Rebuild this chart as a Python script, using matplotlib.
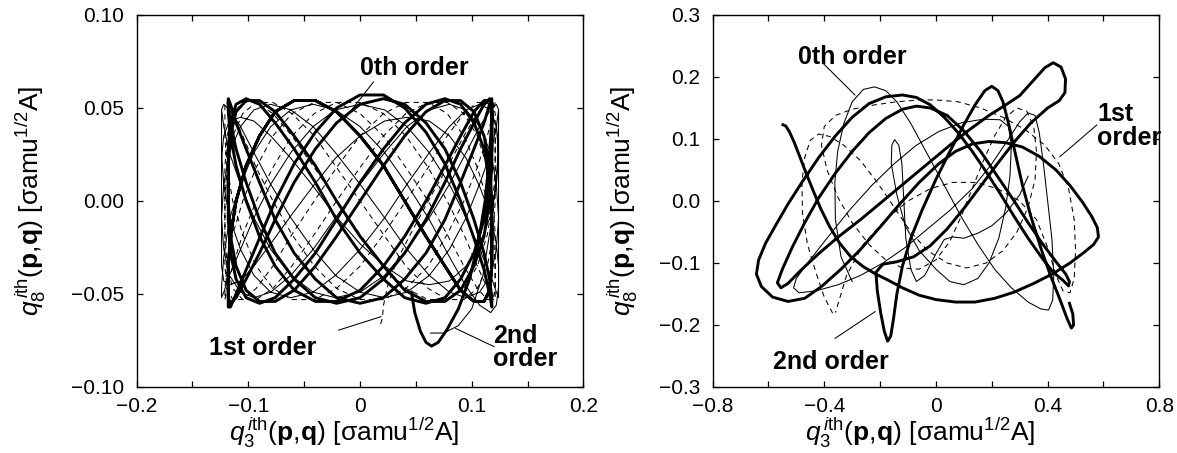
import numpy as np
import matplotlib.pyplot as plt
from matplotlib.ticker import FixedLocator

plt.rcParams['font.family'] = ['Liberation Sans', 'DejaVu Sans']
plt.rcParams['mathtext.fontset'] = 'custom'
plt.rcParams['mathtext.rm'] = 'Liberation Sans'
plt.rcParams['mathtext.it'] = 'Liberation Sans:italic'
plt.rcParams['mathtext.bf'] = 'Liberation Sans:bold'

# ---------------- left panel: q3 vs q8 ----------------
# x positions of one left->right sweep of the trajectory (each curve)
thick_grid = [-0.118, -0.116, -0.111, -0.102, -0.090, -0.076, -0.059, -0.040, -0.021, 0.0,
              0.021, 0.040, 0.059, 0.076, 0.090, 0.102, 0.111, 0.116, 0.118]
thin_grid = [-0.124, -0.122, -0.117, -0.107, -0.095, -0.080, -0.062, -0.042, -0.022, 0.0,
             0.022, 0.042, 0.062, 0.080, 0.095, 0.107, 0.117, 0.122, 0.124]
dash_grid = [-0.121, -0.119, -0.114, -0.105, -0.093, -0.078, -0.061, -0.041, -0.021, 0.0,
             0.021, 0.041, 0.061, 0.078, 0.093, 0.105, 0.114, 0.119, 0.121]

# 2nd order (thick): start hook, then sweeps (first one right->left)
thick_start_x = [0.046, 0.049, 0.054, 0.059, 0.064, 0.070, 0.078, 0.088, 0.098, 0.106, 0.112, 0.116, 0.118]
thick_start_y = [-0.049, -0.060, -0.070, -0.076, -0.078, -0.076, -0.069, -0.058, -0.042, -0.022, 0.0, 0.025, 0.045]
thick_sweeps = [
    [.055, .052, .042, .028, .010, -.010, -.028, -.042, -.052, -.055, -.052, -.042, -.028, -.010, .010, .028, .042, .052, .055],
    [.048, .035, .019, 0, -.019, -.035, -.048, -.054, -.054, -.048, -.035, -.019, 0, .019, .035, .048, .054, .054, .048],
    [.019, 0, -.019, -.035, -.048, -.054, -.054, -.048, -.035, -.019, 0, .019, .035, .048, .054, .054, .048, .035, .019],
    [-.010, -.028, -.042, -.052, -.055, -.052, -.042, -.028, -.010, .010, .028, .042, .052, .055, .052, .042, .028, .010, -.010],
    [-.035, -.048, -.054, -.054, -.048, -.035, -.019, 0, .019, .035, .048, .054, .054, .048, .035, .019, 0, -.019, -.035],
    [-.057, -.057, -.050, -.037, -.020, 0, .020, .037, .050, .057, .057, .050, .037, .020, 0, -.020, -.037, -.050, -.057],
    [-.052, -.042, -.028, -.010, .010, .028, .042, .052, .055, .052, .042, .028, .010, -.010, -.028, -.042, -.052, -.055, -.052],
    [-.035, -.019, 0, .019, .035, .048, .054, .054, .048, .035, .019, 0, -.019, -.035, -.048, -.054, -.054, -.048, -.035],
    [0, .019, .035, .048, .054, .054, .048, .035, .019, 0, -.019, -.035, -.048, -.054, -.054, -.048, -.035, -.019, 0],
    [.028, .042, .052, .055, .052, .042, .028, .010, -.010, -.028, -.042, -.052, -.055, -.052, -.042, -.028, -.010, .010, .028],
    [.052, .055, .052, .042, .028, .010, -.010, -.028, -.042, -.052, -.055, -.052, -.042, -.028, -.010, .010, .028, .042, .052],
]

# 0th order (thin)
thin_start_x = [0.063, 0.075, 0.088, 0.100, 0.110, 0.118, 0.123, 0.124]
thin_start_y = [-0.071, -0.071, -0.067, -0.058, -0.040, -0.010, 0.020, 0.045]
thin_sweeps = [
    [.049, .040, .026, .009, -.009, -.026, -.040, -.049, -.052, -.049, -.040, -.026, -.009, .009, .026, .040, .049, .052, .049],
    [.026, .009, -.009, -.026, -.040, -.049, -.052, -.049, -.040, -.026, -.009, .009, .026, .040, .049, .052, .049, .040, .026],
    [-.009, -.026, -.040, -.049, -.052, -.049, -.040, -.026, -.009, .009, .026, .040, .049, .052, .049, .040, .026, .009, -.009],
    [-.035, -.043, -.045, -.043, -.035, -.023, -.008, .008, .023, .035, .043, .045, .043, .035, .023, .008, -.008, -.023, -.035],
    [-.052, -.049, -.040, -.026, -.009, .009, .026, .040, .049, .052, .049, .040, .026, .009, -.009, -.026, -.040, -.049, -.052],
    [-.046, -.030, -.010, .009, .026, .040, .049, .052, .049, .040, .026, .009, -.010, -.030, -.046, -.056, -.060, -.056, -.046],
    [-.009, .009, .026, .040, .049, .052, .049, .040, .026, .009, -.009, -.026, -.040, -.049, -.052, -.049, -.040, -.026, -.009],
    [.023, .035, .043, .045, .043, .035, .023, .008, -.008, -.023, -.035, -.043, -.045, -.043, -.035, -.023, -.008, .008, .023],
    [.049, .052, .049, .040, .026, .009, -.009, -.026, -.040, -.049, -.052, -.049, -.040, -.026, -.009, .009, .026, .040, .049],
]

# 1st order (dashed): sweeps, then the last part ending in the small hook
dash_sweeps = [
    [.053, .047, .035, .018, 0, -.018, -.035, -.047, -.053, -.053, -.047, -.035, -.018, 0, .018, .035, .047, .053, .053],
    [.035, .018, 0, -.018, -.035, -.047, -.053, -.053, -.047, -.035, -.018, 0, .018, .035, .047, .053, .053, .047, .035],
    [0, -.018, -.035, -.047, -.053, -.053, -.047, -.035, -.018, 0, .018, .035, .047, .053, .053, .047, .035, .018, 0],
    [-.035, -.047, -.053, -.053, -.047, -.035, -.018, 0, .018, .035, .047, .053, .053, .047, .035, .018, 0, -.018, -.035],
    [-.053, -.053, -.047, -.035, -.018, 0, .018, .035, .047, .053, .053, .047, .035, .018, 0, -.018, -.035, -.047, -.053],
    [-.047, -.035, -.018, 0, .018, .035, .047, .053, .053, .047, .035, .018, 0, -.018, -.035, -.047, -.053, -.053, -.047],
    [-.018, 0, .018, .035, .047, .053, .053, .047, .035, .018, 0, -.018, -.035, -.047, -.053, -.053, -.047, -.035, -.018],
    [.018, .035, .047, .053, .053, .047, .035, .018, 0, -.018, -.035, -.047, -.053, -.053, -.047, -.035, -.018, 0, .018],
]
dash_end_x = [0.121, 0.119, 0.114, 0.105, 0.093, 0.078, 0.061, 0.045, 0.033, 0.025, 0.021, 0.020, 0.018]
dash_end_y = [.047, .053, .053, .047, .035, .018, 0.0, -.018, -.032, -.045, -.056, -.063, -.067]

left_xticks = [-0.2, -0.1, 0.0, 0.1, 0.2]
left_xlabels = ['\u22120.2', '\u22120.1', '0', '0.1', '0.2']
left_yticks = [-0.10, -0.05, 0.0, 0.05, 0.10]
left_ylabels = ['\u22120.10', '\u22120.05', '0.00', '0.05', '0.10']

# ---------------- right panel, traced by eye ----------------
thick_r = [(-0.548, 0.123), (-0.538, 0.121), (-0.525, 0.112), (-0.508, 0.095), (-0.488, 0.072), (-0.465, 0.045),
           (-0.44, 0.017), (-0.412, -0.013), (-0.38, -0.042), (-0.345, -0.068), (-0.305, -0.09), (-0.26, -0.106),
           (-0.215, -0.118), (-0.17, -0.128), (-0.12, -0.14), (-0.06, -0.152), (0.0, -0.159), (0.07, -0.163),
           (0.14, -0.163), (0.21, -0.157), (0.28, -0.147), (0.35, -0.133), (0.42, -0.117), (0.48, -0.1),
           (0.53, -0.083), (0.565, -0.07), (0.582, -0.058), (0.578, -0.043), (0.558, -0.025), (0.525, -0.002),
           (0.48, 0.025), (0.43, 0.05), (0.37, 0.072), (0.31, 0.087), (0.25, 0.094), (0.19, 0.096), (0.13, 0.092),
           (0.07, 0.08), (0.01, 0.06), (-0.06, 0.03), (-0.13, -0.005), (-0.2, -0.042), (-0.27, -0.078),
           (-0.34, -0.11), (-0.41, -0.138), (-0.47, -0.157), (-0.53, -0.162), (-0.585, -0.155), (-0.625, -0.138),
           (-0.643, -0.118), (-0.635, -0.095), (-0.61, -0.068), (-0.575, -0.04), (-0.53, -0.005), (-0.48, 0.03),
           (-0.42, 0.07), (-0.36, 0.105), (-0.3, 0.135), (-0.24, 0.157), (-0.18, 0.168), (-0.12, 0.171),
           (-0.07, 0.167), (-0.02, 0.155), (0.03, 0.135), (0.08, 0.11), (0.13, 0.08), (0.18, 0.047), (0.23, 0.012),
           (0.28, -0.025), (0.33, -0.06), (0.38, -0.092), (0.42, -0.115), (0.455, -0.128), (0.475, -0.137),
           (0.478, -0.13), (0.465, -0.118), (0.43, -0.098), (0.38, -0.068), (0.33, -0.035), (0.28, 0.0),
           (0.22, 0.04), (0.16, 0.08), (0.1, 0.113), (0.04, 0.138), (-0.02, 0.15), (-0.07, 0.153), (-0.12, 0.148),
           (-0.18, 0.133), (-0.24, 0.11), (-0.3, 0.08), (-0.36, 0.045), (-0.42, 0.005), (-0.47, -0.035),
           (-0.515, -0.075), (-0.55, -0.11), (-0.568, -0.132), (-0.555, -0.14), (-0.53, -0.133), (-0.48, -0.11),
           (-0.42, -0.085), (-0.35, -0.058), (-0.27, -0.03), (-0.19, 0.0), (-0.11, 0.03), (-0.03, 0.06),
           (0.05, 0.09), (0.12, 0.115), (0.19, 0.138), (0.25, 0.155), (0.3, 0.17), (0.35, 0.195), (0.39, 0.215),
           (0.42, 0.223), (0.448, 0.216), (0.464, 0.197), (0.462, 0.175), (0.442, 0.162), (0.4, 0.15),
           (0.34, 0.126), (0.28, 0.095), (0.22, 0.06), (0.16, 0.024), (0.1, -0.012), (0.04, -0.045),
           (-0.02, -0.072), (-0.08, -0.09), (-0.14, -0.098), (-0.19, -0.102), (-0.215, -0.115), (-0.21, -0.145),
           (-0.198, -0.18), (-0.185, -0.21), (-0.173, -0.226), (-0.162, -0.218), (-0.152, -0.19), (-0.14, -0.15),
           (-0.12, -0.105), (-0.09, -0.06), (-0.05, -0.015), (0.0, 0.035), (0.05, 0.08), (0.1, 0.123),
           (0.14, 0.155), (0.175, 0.178), (0.2, 0.185), (0.222, 0.178), (0.24, 0.16), (0.26, 0.125),
           (0.285, 0.075), (0.31, 0.025), (0.34, -0.025), (0.375, -0.075), (0.41, -0.12), (0.445, -0.16),
           (0.47, -0.19), (0.485, -0.205), (0.493, -0.2), (0.49, -0.182), (0.478, -0.165)]

thin_r = [(-0.30, -0.13), (-0.34, -0.09), (-0.36, -0.03), (-0.362, 0.03), (-0.352, 0.08), (-0.33, 0.125),
          (-0.30, 0.16), (-0.26, 0.18), (-0.22, 0.184), (-0.18, 0.178), (-0.14, 0.16), (-0.09, 0.125),
          (-0.03, 0.075), (0.03, 0.025), (0.09, -0.025), (0.15, -0.07), (0.21, -0.11), (0.27, -0.14),
          (0.33, -0.163), (0.375, -0.174), (0.403, -0.176), (0.418, -0.16), (0.422, -0.12), (0.415, -0.06),
          (0.40, 0.0), (0.385, 0.06), (0.37, 0.11), (0.355, 0.138), (0.33, 0.142), (0.30, 0.128), (0.26, 0.10),
          (0.20, 0.06), (0.13, 0.02), (0.05, -0.015), (-0.03, -0.045), (-0.11, -0.075), (-0.19, -0.10),
          (-0.27, -0.12), (-0.35, -0.135), (-0.43, -0.145), (-0.49, -0.148), (-0.51, -0.14), (-0.50, -0.125),
          (-0.46, -0.10), (-0.39, -0.06), (-0.31, -0.015), (-0.23, 0.025), (-0.15, 0.06), (-0.07, 0.09),
          (0.01, 0.112), (0.09, 0.126), (0.17, 0.132), (0.23, 0.131), (0.26, 0.12), (0.27, 0.09), (0.265, 0.04),
          (0.25, -0.01), (0.225, -0.06), (0.19, -0.10), (0.15, -0.125), (0.10, -0.135), (0.05, -0.13),
          (0.0, -0.11), (-0.06, -0.08), (-0.11, -0.04), (-0.14, 0.01), (-0.16, 0.06), (-0.158, 0.09),
          (-0.148, 0.099), (-0.133, 0.09), (-0.122, 0.06), (-0.115, 0.0), (-0.108, -0.06), (-0.09, -0.11),
          (-0.07, -0.13), (-0.04, -0.12), (0.0, -0.085), (0.03, -0.062), (0.06, -0.058), (0.10, -0.06),
          (0.15, -0.052), (0.20, -0.04), (0.25, -0.02), (0.30, 0.01), (0.33, 0.04)]

dash_r = [(-0.37, -0.181), (-0.40, -0.155), (-0.43, -0.115), (-0.46, -0.07), (-0.478, -0.02), (-0.48, 0.03),
          (-0.47, 0.07), (-0.45, 0.098), (-0.42, 0.108), (-0.38, 0.104), (-0.33, 0.09), (-0.27, 0.065),
          (-0.21, 0.03), (-0.15, -0.01), (-0.09, -0.05), (-0.03, -0.08), (0.04, -0.10), (0.11, -0.108),
          (0.18, -0.10), (0.24, -0.08), (0.29, -0.05), (0.33, -0.01), (0.355, 0.035), (0.36, 0.08),
          (0.35, 0.12), (0.325, 0.145), (0.29, 0.15), (0.25, 0.135), (0.21, 0.105), (0.17, 0.065), (0.13, 0.02),
          (0.09, -0.025), (0.05, -0.065), (0.0, -0.095), (-0.06, -0.11), (-0.12, -0.108), (-0.18, -0.095),
          (-0.24, -0.07), (-0.30, -0.035), (-0.35, 0.005), (-0.39, 0.05), (-0.41, 0.09), (-0.40, 0.12),
          (-0.36, 0.138), (-0.30, 0.148), (-0.22, 0.155), (-0.14, 0.16), (-0.06, 0.163), (0.0, 0.163),
          (0.08, 0.16), (0.16, 0.15), (0.24, 0.135), (0.32, 0.115), (0.39, 0.09), (0.44, 0.06), (0.475, 0.02),
          (0.495, -0.03), (0.50, -0.08), (0.495, -0.125), (0.48, -0.148), (0.455, -0.145), (0.43, -0.12),
          (0.40, -0.075), (0.36, -0.03), (0.30, 0.0), (0.22, 0.02), (0.14, 0.03), (0.06, 0.03), (-0.02, 0.02),
          (-0.10, 0.0), (-0.18, -0.03), (-0.26, -0.07), (-0.32, -0.12), (-0.35, -0.165), (-0.36, -0.18)]

right_xticks = [-0.8, -0.4, 0.0, 0.4, 0.8]
right_xlabels = ['\u22120.8', '\u22120.4', '0', '0.4', '0.8']
right_yticks = [-0.3, -0.2, -0.1, 0.0, 0.1, 0.2, 0.3]
right_ylabels = ['\u22120.3', '\u22120.2', '\u22120.1', '0.0', '0.1', '0.2', '0.3']


def join_sweeps(grid, sweeps):
    # sweeps alternate direction, the first one runs right -> left
    xs, ys = [], []
    for i, yv in enumerate(sweeps):
        xs += grid[::-1] if i % 2 == 0 else grid
        ys += yv
    return xs, ys


fig = plt.figure(figsize=(11.77, 4.53), dpi=100)
axL = fig.add_axes([0.1161, 0.1457, 0.3796, 0.8212])
axR = fig.add_axes([0.6054, 0.1457, 0.3796, 0.8212])

thick_kw = dict(color='black', lw=2.1, solid_joinstyle='round')
thin_kw = dict(color='black', lw=0.75)
dash_kw = dict(color='black', lw=0.75, linestyle=(0, (5, 4)))

# left
dx, dy = join_sweeps(dash_grid, dash_sweeps)
axL.plot(dx + dash_end_x, dy + dash_end_y, **dash_kw)
tx, ty = join_sweeps(thin_grid, thin_sweeps)
axL.plot(thin_start_x + tx, thin_start_y + ty, **thin_kw)
kx, ky = join_sweeps(thick_grid, thick_sweeps)
axL.plot(thick_start_x + kx, thick_start_y + ky, **thick_kw)

# right
axR.plot([p[0] for p in dash_r], [p[1] for p in dash_r], **dash_kw)
axR.plot([p[0] for p in thin_r], [p[1] for p in thin_r], **thin_kw)
axR.plot([p[0] for p in thick_r], [p[1] for p in thick_r], **thick_kw)

bold = dict(fontsize=18, fontweight='bold')
line_kw = dict(color='black', lw=0.75)

axL.text(0.0, 0.0713, '0th order', ha='left', va='center', **bold)
axL.plot([0.012, -0.014], [0.064, 0.044], **line_kw)
axL.text(-0.1355, -0.0792, '1st order', ha='left', va='center', **bold)
axL.plot([-0.019, 0.0187], [-0.0694, -0.0622], **line_kw)
axL.text(0.1188, -0.0790, '2nd\norder', ha='left', va='center', linespacing=0.95, **bold)
axL.plot([0.12, 0.0855], [-0.0783, -0.0685], **line_kw)

axR.text(-0.494, 0.233, '0th order', ha='left', va='center', **bold)
axR.plot([-0.404, -0.29], [0.222, 0.171], **line_kw)
axR.text(0.578, 0.121, '1st\norder', ha='left', va='center', linespacing=0.95, **bold)
axR.plot([0.576, 0.444], [0.1226, 0.0715], **line_kw)
axR.text(-0.582, -0.259, '2nd order', ha='left', va='center', **bold)
axR.plot([-0.361, -0.218], [-0.2215, -0.1785], **line_kw)

lab = r'$q_3^{\,i\mathrm{th}}(\mathbf{p},\!\mathbf{q})\ [\mathrm{\sigma amu}^{1/2}\mathrm{A}]$'
ylab = r'$q_8^{\,i\mathrm{th}}(\mathbf{p},\!\mathbf{q})\ [\mathrm{\sigma amu}^{1/2}\mathrm{A}]$'

for ax, xt, xl, yt, yl, xlim, ylim, xminor, ylx in [
        (axL, left_xticks, left_xlabels, left_yticks, left_ylabels, (-0.2, 0.2), (-0.1, 0.1),
         [-0.15, -0.05, 0.05, 0.15], -0.199),
        (axR, right_xticks, right_xlabels, right_yticks, right_ylabels, (-0.8, 0.8), (-0.3, 0.3),
         [-0.6, -0.2, 0.2, 0.6], -0.162)]:
    ax.set_xlim(*xlim)
    ax.set_ylim(*ylim)
    ax.xaxis.set_major_locator(FixedLocator(xt))
    ax.set_xticklabels(xl)
    ax.xaxis.set_minor_locator(FixedLocator(xminor))
    ax.yaxis.set_major_locator(FixedLocator(yt))
    ax.set_yticklabels(yl)
    ax.tick_params(which='both', direction='in', top=True, right=True, length=4.5, width=0.9,
                   labelsize=15)
    ax.tick_params(axis='y', pad=9)
    ax.tick_params(axis='x', pad=7)
    for s in ax.spines.values():
        s.set_linewidth(1.0)
    ax.set_xlabel(lab, fontsize=19)
    ax.set_ylabel(ylab, fontsize=19)
    ax.yaxis.set_label_coords(ylx, 0.5)
    ax.xaxis.set_label_coords(0.464, -0.078)

fig.savefig('out.png', dpi=100)
